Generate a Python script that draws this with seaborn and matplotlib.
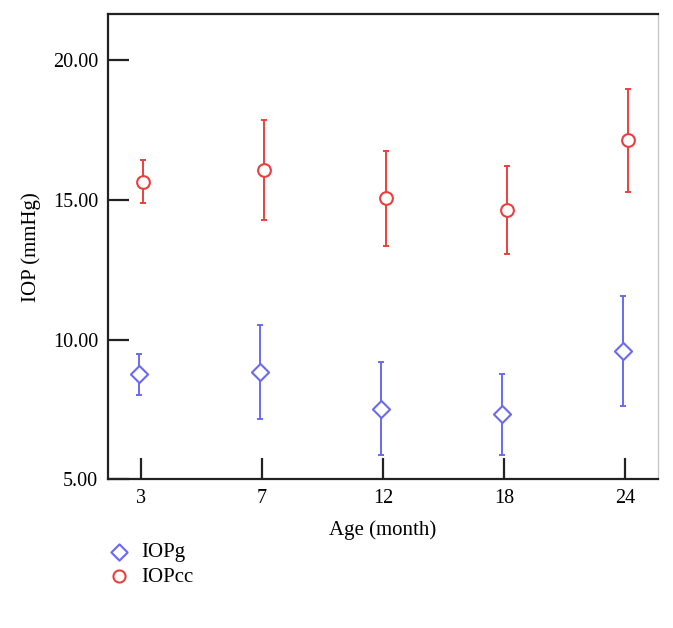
import pandas as pd
import seaborn as sns
import matplotlib.pyplot as plt

# datos (media y desviacion)
ages = ["3", "7", "12", "18", "24"]
iopg_mean = [8.77, 8.85, 7.53, 7.34, 9.60]
iopg_sd = [0.73, 1.68, 1.67, 1.45, 1.98]
iopcc_mean = [15.66, 16.08, 15.06, 14.65, 17.13]
iopcc_sd = [0.76, 1.79, 1.71, 1.58, 1.85]
y_ticks = [5.00, 10.00, 15.00, 20.00]

blue = "#6a6af0"
red = "#e8403e"

sns.set_theme(style="white")
plt.rcParams["font.family"] = ["Liberation Serif", "DejaVu Serif"]
plt.rcParams["text.color"] = "black"

fig = plt.figure(figsize=(6.73, 6.28), dpi=100)
ax = fig.add_axes([0.1605, 0.2365, 0.817, 0.741])

df = pd.DataFrame({
    "Age": ages * 2,
    "pos": list(range(len(ages))) * 2,
    "IOP": iopg_mean + iopcc_mean,
    "sd": iopg_sd + iopcc_sd,
    "serie": ["IOPg"] * len(ages) + ["IOPcc"] * len(ages),
})
# pequeño desplazamiento entre series
off = {"IOPg": -0.018, "IOPcc": 0.022}
df["x"] = df["pos"] + df["serie"].map(off)

estilos = {
    "IOPg": dict(color=blue, marker="D", s=76),
    "IOPcc": dict(color=red, marker="o", s=84),
}

for serie, sub in df.groupby("serie", sort=False):
    e = estilos[serie]
    ax.errorbar(sub["x"], sub["IOP"], yerr=sub["sd"], fmt="none",
                ecolor=e["color"], elinewidth=1.4, capsize=2.5,
                capthick=1.4, zorder=2)
    sns.scatterplot(data=sub, x="x", y="IOP", ax=ax, marker=e["marker"],
                    s=e["s"], color="white", edgecolor=e["color"],
                    linewidth=1.5, zorder=4, label=serie, legend=False)

ax.set_xlim(-0.27, 4.27)
ax.set_ylim(5, 21.65)
ax.set_xticks(range(len(ages)))
ax.set_xticklabels(ages)
ax.set_yticks(y_ticks)
ax.set_yticklabels([f"{v:.2f}" for v in y_ticks])
ax.tick_params(axis="both", direction="in", bottom=True, left=True,
               width=1.6, color="#222222", labelsize=14.5,
               labelcolor="black", pad=7)
ax.tick_params(axis="y", length=15)
ax.tick_params(axis="x", length=15)

for lado in ["left", "bottom", "top"]:
    ax.spines[lado].set_color("#222222")
    ax.spines[lado].set_linewidth(1.6)
ax.spines["right"].set_color("#c8c8c8")
ax.spines["right"].set_linewidth(1.0)

ax.set_xlabel("Age (month)", fontsize=15, color="black", labelpad=9)
ax.set_ylabel("IOP (mmHg)", fontsize=15, color="black", labelpad=9)

handles, labels = ax.get_legend_handles_labels()
fig.legend(handles, labels, loc="upper left", bbox_to_anchor=(0.13, 0.166),
           frameon=False, fontsize=15, handlelength=1.2, handletextpad=0.5,
           labelspacing=0.25, markerscale=0.95, labelcolor="black")

plt.savefig("out.png", dpi=100)
